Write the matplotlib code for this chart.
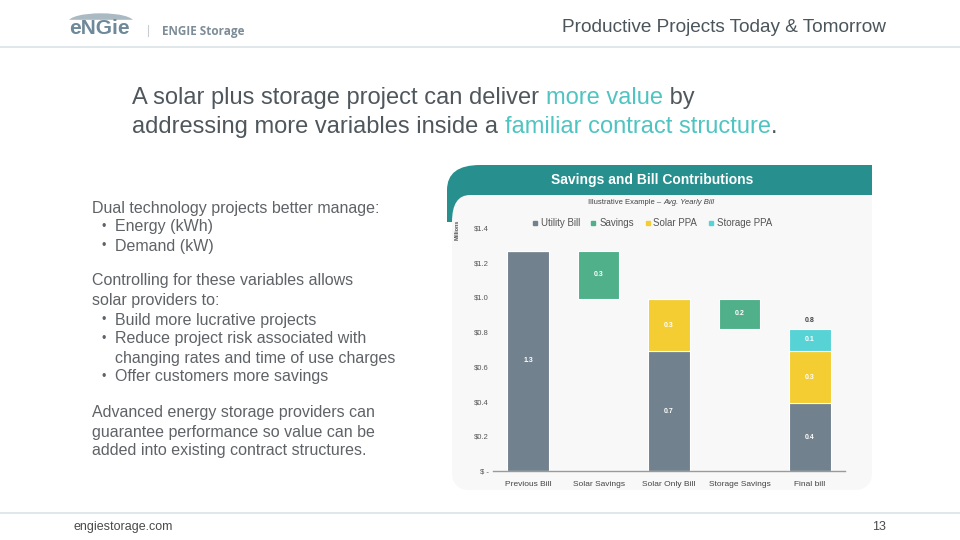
import matplotlib
matplotlib.use("Agg")
import matplotlib.pyplot as plt
from matplotlib.patches import FancyBboxPatch, Rectangle, PathPatch, Ellipse
from matplotlib.path import Path
from matplotlib.lines import Line2D

plt.rcParams['font.family'] = ['Liberation Sans', 'DejaVu Sans']

# ---------------- data ----------------
categories = ["Previous Bill", "Solar Savings", "Solar Only Bill", "Storage Savings", "Final bill"]
utility_bill = [1.27, 0.0, 0.69, 0.0, 0.39]
savings = [0.0, 0.28, 0.0, 0.17, 0.0]
solar_ppa = [0.0, 0.0, 0.30, 0.0, 0.30]
storage_ppa = [0.0, 0.0, 0.0, 0.0, 0.13]
yticks = [0, 0.2, 0.4, 0.6, 0.8, 1.0, 1.2, 1.4]
ytick_labels = ["$ -", "$0.2", "$0.4", "$0.6", "$0.8", "$1.0", "$1.2", "$1.4"]
series_names = ["Utility Bill", "Savings", "Solar PPA", "Storage PPA"]

C_GREY = "#71818d"
C_SAV = "#4fb08a"
C_SOLAR = "#f3cd31"
C_STOR = "#57d3d5"
C_TEAL = "#27908f"
C_TXT = "#5f6367"

W, H = 960, 540
fig = plt.figure(figsize=(9.6, 5.4), dpi=100)
fig.patch.set_facecolor("white")

bg = fig.add_axes([0, 0, 1, 1])
bg.set_xlim(0, W)
bg.set_ylim(H, 0)
bg.axis("off")
bg.set_zorder(0)

# header / footer lines
bg.add_line(Line2D([0, W], [47, 47], color="#d9e3e7", lw=1.2))
bg.add_line(Line2D([0, W], [513, 513], color="#d9e3e7", lw=1.2))

# logo
bg.add_patch(Ellipse((101, 22), 64, 16, color="#aab9c2", zorder=1))
bg.add_patch(Rectangle((60, 20), 90, 14, color="white", zorder=2))
bg.text(99, 29, "eNGie", fontsize=15, fontweight="bold", color="#6e8999",
        ha="center", va="center", zorder=3)
bg.add_line(Line2D([148, 148], [25, 36], color="#c8cfd3", lw=0.8))
bg.text(162, 31, "ENGIE Storage", fontsize=8.5, fontweight="bold", color="#7d8c96",
        ha="left", va="center", family=["Open Sans", "DejaVu Sans"])

bg.text(886, 27, "Productive Projects Today & Tomorrow", fontsize=13.7, color="#4b555c",
        ha="right", va="center")

# footer
bg.text(74, 527, "engiestorage.com", fontsize=9, color="#4a4a4a", ha="left", va="center")
bg.text(886, 527, "13", fontsize=9, color="#4a4a4a", ha="right", va="center")

# headline with mixed colours
fig.canvas.draw()
renderer = fig.canvas.get_renderer()

def colored_line(x0, y, parts, size):
    x = x0
    for txt, col in parts:
        t = bg.text(x, y, txt, fontsize=size, color=col, ha="left", va="center")
        bb = t.get_window_extent(renderer=renderer)
        x += bb.width

HL = "#4fc4c1"
colored_line(132, 98, [("A solar plus storage project can deliver ", "#4f575d"),
                       ("more value", HL), (" by", "#4f575d")], 17)
colored_line(132, 127, [("addressing more variables inside a ", "#4f575d"),
                        ("familiar contract structure", HL), (".", "#4f575d")], 17)

# left body text
body = [
    (92, 208, "Dual technology projects better manage:"),
    (115, 227, "Energy (kWh)"),
    (115, 246, "Demand (kW)"),
    (92, 281, "Controlling for these variables allows"),
    (92, 300, "solar providers to:"),
    (115, 320, "Build more lucrative projects"),
    (115, 339, "Reduce project risk associated with"),
    (115, 358, "changing rates and time of use charges"),
    (115, 377, "Offer customers more savings"),
    (92, 413, "Advanced energy storage providers can"),
    (92, 432, "guarantee performance so value can be"),
    (92, 451, "added into existing contract structures."),
]
for x, y, s in body:
    bg.text(x, y, s, fontsize=11.5, color=C_TXT, ha="left", va="center")
for y in [227, 246, 320, 339, 377]:
    bg.text(102, y, "\u2022", fontsize=9, color=C_TXT, ha="left", va="center")

# chart panel
teal_verts = [(447, 222), (447, 190), (447, 165), (480, 165), (872, 165), (872, 195),
              (470, 195), (452, 195), (452, 222), (447, 222)]
teal_codes = [Path.MOVETO, Path.LINETO, Path.CURVE3, Path.CURVE3, Path.LINETO, Path.LINETO,
              Path.LINETO, Path.CURVE3, Path.CURVE3, Path.CLOSEPOLY]
panel = FancyBboxPatch((452, 195), 420, 295, boxstyle="round,pad=0,rounding_size=18",
                       fc="#f8f8f8", ec="none", zorder=1)
bg.add_patch(panel)
bg.add_patch(Rectangle((452, 195), 420, 40, fc="#f8f8f8", ec="none", zorder=1))
bg.add_patch(PathPatch(Path(teal_verts, teal_codes), fc=C_TEAL, ec="none", zorder=2))
bg.text(652, 180, "Savings and Bill Contributions", fontsize=10, fontweight="bold",
        color="white", ha="center", va="center", zorder=3)
bg.text(663, 203, "Illustrative Example \u2013 ", fontsize=5.5, color="#444",
        ha="right", va="center", zorder=3)
bg.text(663, 203, "Avg. Yearly Bill", fontsize=5.5, color="#444", style="italic",
        ha="left", va="center", zorder=3)
bg.text(457, 230, "Millions", fontsize=4, fontweight="bold", color="#555", rotation=90,
        ha="center", va="center", zorder=3)

# ---------------- chart ----------------
ax = fig.add_axes([493 / W, (H - 471) / H, 352 / W, (471 - 219.4) / H])
ax.set_zorder(2)
ax.patch.set_alpha(0)
ax.set_xlim(-0.5, 4.5)
ax.set_ylim(0, 1.45)

x = list(range(len(categories)))
bw = 0.59
sav_bottom = []
running = 0.0
for i in x:
    tot = utility_bill[i] + solar_ppa[i] + storage_ppa[i]
    if savings[i] > 0:
        sav_bottom.append(running - savings[i])
        running = running - savings[i]
    else:
        sav_bottom.append(0)
        running = tot

ax.bar(x, utility_bill, bw, color=C_GREY, edgecolor="white", linewidth=0.8, zorder=2)
ax.bar(x, savings, bw, bottom=sav_bottom, color=C_SAV, edgecolor="white", linewidth=0.8, zorder=2)
ax.bar(x, solar_ppa, bw, bottom=utility_bill, color=C_SOLAR, edgecolor="white", linewidth=0.8, zorder=2)
b2 = [u + s for u, s in zip(utility_bill, solar_ppa)]
ax.bar(x, storage_ppa, bw, bottom=b2, color=C_STOR, edgecolor="white", linewidth=0.8, zorder=2)

lab_kw = dict(fontsize=5, fontweight="bold", color="white", ha="center", va="center", zorder=3)
for i in x:
    if utility_bill[i] > 0:
        ax.text(i, utility_bill[i] / 2, f"{utility_bill[i]:.1f}", **lab_kw)
    if savings[i] > 0:
        ax.text(i, sav_bottom[i] + savings[i] / 2, f"{savings[i]:.1f}", **lab_kw)
    if solar_ppa[i] > 0:
        ax.text(i, utility_bill[i] + solar_ppa[i] / 2, f"{solar_ppa[i]:.1f}", **lab_kw)
    if storage_ppa[i] > 0:
        ax.text(i, b2[i] + storage_ppa[i] / 2, f"{storage_ppa[i]:.1f}", **lab_kw)
final_total = utility_bill[-1] + solar_ppa[-1] + storage_ppa[-1]
ax.text(x[-1], final_total + 0.045, f"{final_total:.1f}", fontsize=5, fontweight="bold",
        color="#444", ha="center", va="center", zorder=3)

ax.set_yticks(yticks)
ax.set_yticklabels(ytick_labels, fontsize=5.5, color="#555")
ax.set_xticks(x)
ax.set_xticklabels(categories, fontsize=6, color="#444")
ax.tick_params(axis="y", length=0, pad=3)
ax.tick_params(axis="x", length=0, pad=7)
for s in ["top", "right", "left"]:
    ax.spines[s].set_visible(False)
ax.spines["bottom"].set_color("#9a9a9a")
ax.spines["bottom"].set_linewidth(1)

handles = [Line2D([], [], marker="s", ls="none", markersize=3, color=c)
           for c in [C_GREY, C_SAV, C_SOLAR, C_STOR]]
ax.legend(handles, series_names, loc="center", bbox_to_anchor=(0.45, 0.985), ncol=4,
          frameon=False, fontsize=7, handletextpad=0.2, columnspacing=1.0,
          labelcolor="#555", handlelength=0.8)

fig.savefig("out.png", dpi=100, facecolor="white")
